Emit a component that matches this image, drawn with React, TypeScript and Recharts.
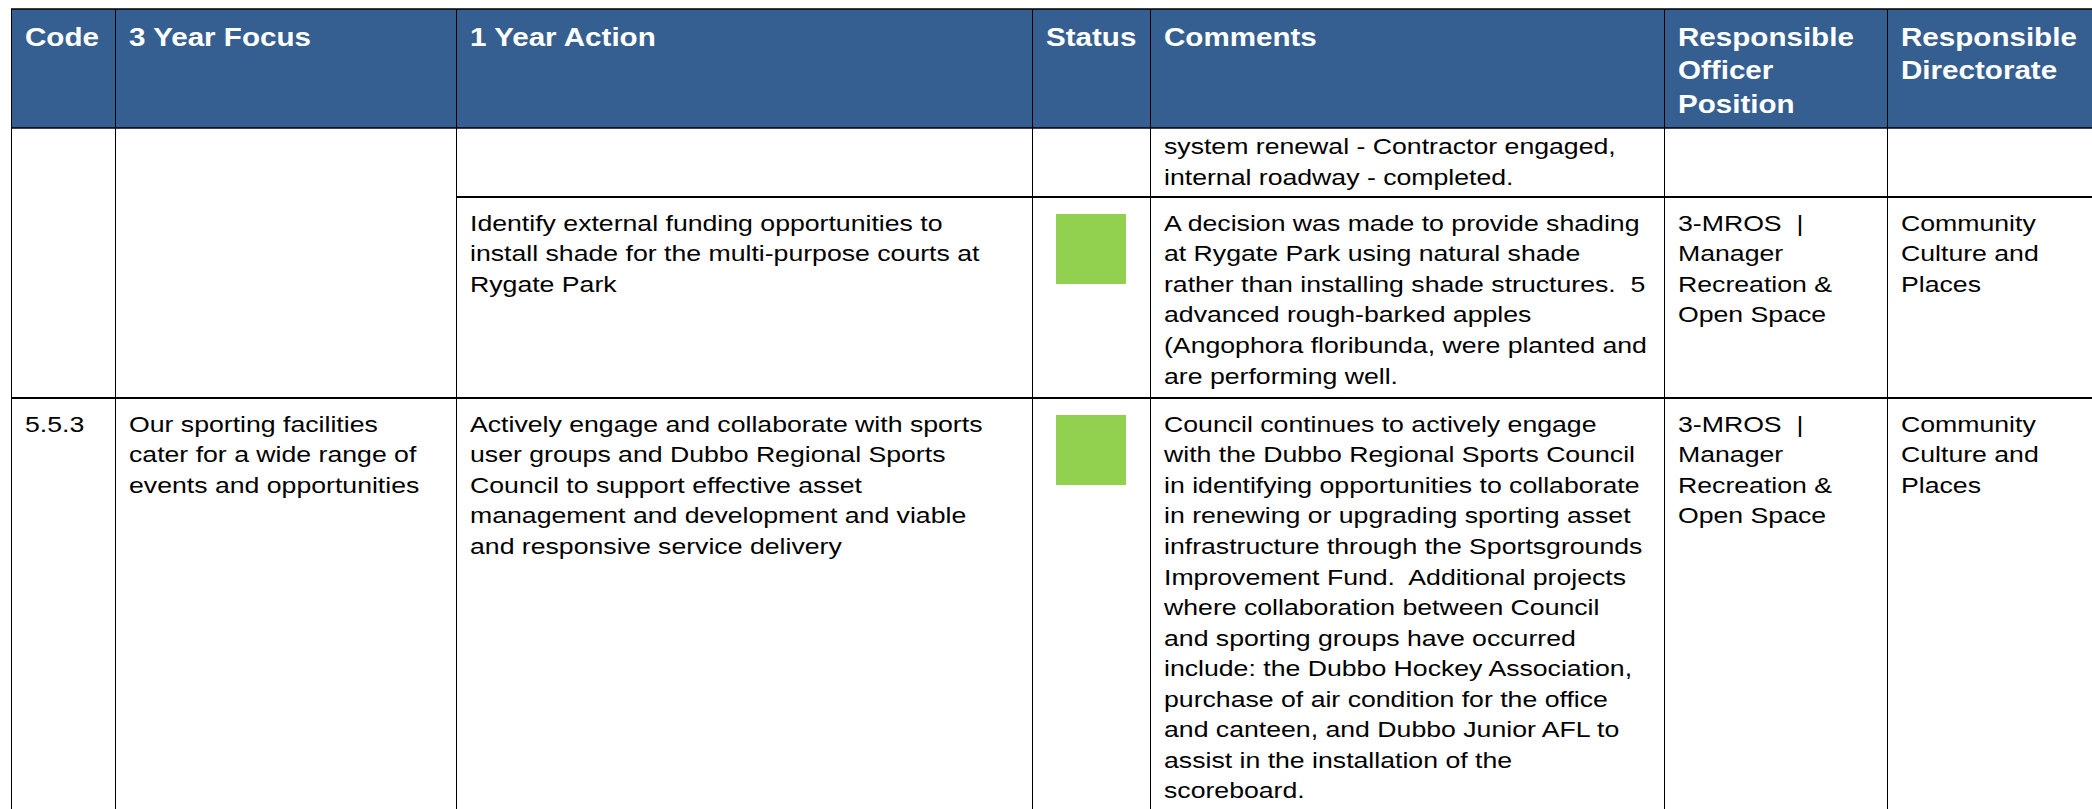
import React from 'react';
import { ComposedChart, XAxis, YAxis, Scatter, ReferenceArea, ReferenceLine } from 'recharts';

// ---------- data ----------
const headerLabels: string[][] = [
  ['Code'],
  ['3 Year Focus'],
  ['1 Year Action'],
  ['Status'],
  ['Comments'],
  ['Responsible', 'Officer', 'Position'],
  ['Responsible', 'Directorate'],
];

// three table rows (the first one continues from a previous page)
const codes: string[][] = [[], [], ['5.5.3']];

const focusTexts: string[][] = [
  [],
  [],
  ['Our sporting facilities', 'cater for a wide range of', 'events and opportunities'],
];

const actions: string[][] = [
  [],
  [
    'Identify external funding opportunities to',
    'install shade for the multi-purpose courts at',
    'Rygate Park',
  ],
  [
    'Actively engage and collaborate with sports',
    'user groups and Dubbo Regional Sports',
    'Council to support effective asset',
    'management and development and viable',
    'and responsive service delivery',
  ],
];

const statuses: (string | null)[] = [null, 'On track', 'On track'];

const comments: string[][] = [
  ['system renewal - Contractor engaged,', 'internal roadway - completed.'],
  [
    'A decision was made to provide shading',
    'at Rygate Park using natural shade',
    'rather than installing shade structures.  5',
    'advanced rough-barked apples',
    '(Angophora floribunda, were planted and',
    'are performing well.',
  ],
  [
    'Council continues to actively engage',
    'with the Dubbo Regional Sports Council',
    'in identifying opportunities to collaborate',
    'in renewing or upgrading sporting asset',
    'infrastructure through the Sportsgrounds',
    'Improvement Fund.  Additional projects',
    'where collaboration between Council',
    'and sporting groups have occurred',
    'include: the Dubbo Hockey Association,',
    'purchase of air condition for the office',
    'and canteen, and Dubbo Junior AFL to',
    'assist in the installation of the',
    'scoreboard.',
  ],
];

const officers: string[][] = [
  [],
  ['3-MROS  |', 'Manager', 'Recreation &', 'Open Space'],
  ['3-MROS  |', 'Manager', 'Recreation &', 'Open Space'],
];

const directorates: string[][] = [
  [],
  ['Community', 'Culture and', 'Places'],
  ['Community', 'Culture and', 'Places'],
];

// ---------- layout ----------
const W = 2092;
const H = 809;
const COL_X = [11, 115, 456, 1032, 1150, 1664, 1887, 2110];
const ROW_Y = [9, 128, 197, 398, 830];
const PAD_X = 14;
const HEADER_BASELINE = 36.7;
const ROW_BASELINE = [26.3, 33.8, 33.8];
const STATUS_PAD_X = 24;
const STATUS_PAD_Y = 17;
const STATUS_SIZE = 70;

const STATUS_COLORS: Record<string, string> = { 'On track': '#92D050' };
const HEADER_FILL = '#365F91';
const FONT = '"Liberation Sans", Arial, Helvetica, sans-serif';

const HEADER_STYLE = { size: 25.5, sx: 1.16, lh: 33.5, weight: 700, color: '#ffffff' };
const BODY_STYLE = { size: 22.4, sx: 1.19, lh: 30.55, weight: 400, color: '#000000' };

// ---------- derived cells ----------
type Cell = { x: number; y: number; lines: string[]; header: boolean };

const textCells: Cell[] = [];
headerLabels.forEach((lines, c) => {
  textCells.push({ x: COL_X[c] + PAD_X, y: ROW_Y[0] + HEADER_BASELINE, lines, header: true });
});
const bodyColumns: [number, string[][]][] = [
  [0, codes],
  [1, focusTexts],
  [2, actions],
  [4, comments],
  [5, officers],
  [6, directorates],
];
for (let r = 0; r < 3; r++) {
  bodyColumns.forEach(([c, arr]) => {
    const lines = arr[r];
    if (lines.length) {
      textCells.push({ x: COL_X[c] + PAD_X, y: ROW_Y[r + 1] + ROW_BASELINE[r], lines, header: false });
    }
  });
}

const statusCells = statuses
  .map((s, r) => (s ? { x: COL_X[3] + STATUS_PAD_X, y: ROW_Y[r + 1] + STATUS_PAD_Y, status: s } : null))
  .filter(Boolean) as { x: number; y: number; status: string }[];

// horizontal rules: [y, xStart, strokeWidth]
const hLines: [number, number, number][] = [
  [ROW_Y[0], COL_X[0], 1.4],
  [ROW_Y[1], COL_X[0], 1.6],
  [ROW_Y[2], COL_X[2], 1.8],
  [ROW_Y[3], COL_X[0], 1.8],
];

const TextShape = (props: any) => {
  const { cx, cy, payload } = props;
  const st = payload.header ? HEADER_STYLE : BODY_STYLE;
  return (
    <text
      transform={`translate(${cx},${cy}) scale(${st.sx},1)`}
      fontFamily={FONT}
      fontSize={st.size}
      fontWeight={st.weight}
      fill={st.color}
      style={{ whiteSpace: 'pre' }}
    >
      {payload.lines.map((l: string, i: number) => (
        <tspan key={i} x={0} y={i * st.lh}>
          {l}
        </tspan>
      ))}
    </text>
  );
};

const StatusShape = (props: any) => {
  const { cx, cy, payload } = props;
  return <rect x={cx} y={cy} width={STATUS_SIZE} height={STATUS_SIZE} fill={STATUS_COLORS[payload.status]} />;
};

export default function App() {
  return (
    <div
      style={{
        position: 'absolute',
        left: 0,
        top: 0,
        width: W,
        height: H,
        overflow: 'hidden',
        background: '#ffffff',
      }}
    >
      <ComposedChart width={W} height={H} margin={{ top: 0, right: 0, bottom: 0, left: 0 }}>
        <XAxis type="number" dataKey="x" domain={[0, W]} hide allowDataOverflow />
        <YAxis type="number" dataKey="y" domain={[0, H]} reversed hide allowDataOverflow />
        <ReferenceArea
          x1={COL_X[0]}
          x2={W}
          y1={ROW_Y[0]}
          y2={ROW_Y[1]}
          fill={HEADER_FILL}
          fillOpacity={1}
          stroke="none"
          ifOverflow="hidden"
        />
        {COL_X.filter((x) => x < W).map((x, i) => (
          <ReferenceLine
            key={'v' + i}
            segment={[
              { x: x + 0.5, y: ROW_Y[0] },
              { x: x + 0.5, y: H },
            ]}
            stroke="#000"
            strokeWidth={1}
            ifOverflow="hidden"
          />
        ))}
        {hLines.map(([y, x0, sw], i) => (
          <ReferenceLine
            key={'h' + i}
            segment={[
              { x: x0, y },
              { x: W, y },
            ]}
            stroke="#000"
            strokeWidth={sw}
            ifOverflow="hidden"
          />
        ))}
        <Scatter data={statusCells} shape={StatusShape} isAnimationActive={false} />
        <Scatter data={textCells} shape={TextShape} isAnimationActive={false} />
      </ComposedChart>
    </div>
  );
}
